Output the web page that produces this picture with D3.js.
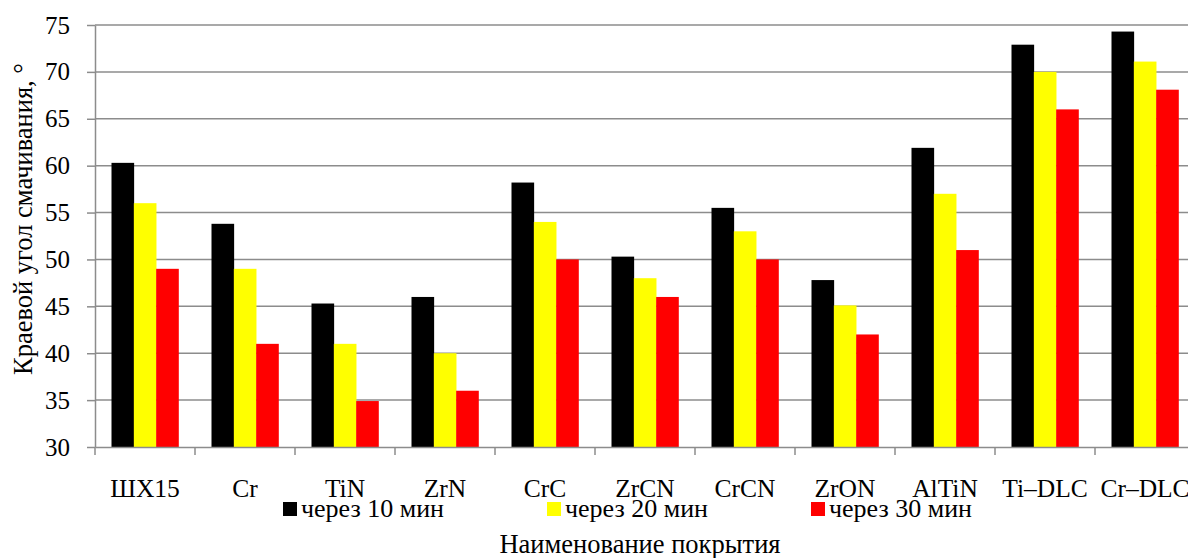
<!DOCTYPE html>
<html><head><meta charset="utf-8">
<script src="https://cdn.jsdelivr.net/npm/d3@7"></script>
<style>body{margin:0;background:#fff;} svg{display:block;}</style>
</head><body>
<svg id="c" width="1188" height="558"></svg>
<script>
const categories = ["ШХ15","Cr","TiN","ZrN","CrC","ZrCN","CrCN","ZrON","AlTiN","Ti\u2013DLC","Cr\u2013DLC"];
const seriesNames = ["через 10 мин","через 20 мин","через 30 мин"];
const seriesColors = ["#000000","#ffff00","#ff0000"];
const s10 = [60.3,53.8,45.3,46.0,58.2,50.3,55.5,47.8,61.9,72.9,74.3];
const s20 = [56.0,49.0,41.0,40.0,54.0,48.0,53.0,45.1,57.0,70.0,71.1];
const s30 = [49.0,41.0,34.9,36.0,50.0,46.0,50.0,42.0,51.0,66.0,68.1];
const yTicks = [30,35,40,45,50,55,60,65,70,75];
const yTitle = "Краевой угол смачивания, °";
const xTitle = "Наименование покрытия";

const series = [s10,s20,s30];
const svg = d3.select("#c");
const font = "Liberation Serif, Times New Roman, serif";
const L = 95, R = 1195, T = 25, B = 447;

const x = d3.scaleBand().domain(categories).range([L,R]).paddingInner(0.33).paddingOuter(0.165);
const xb = d3.scaleBand().domain(categories).range([L,R]);
const xs = d3.scaleBand().domain(d3.range(3)).range([0,x.bandwidth()]);
const y = d3.scaleLinear().domain([30,75]).range([B,T]);

// gridlines
svg.append("g").selectAll("line").data(yTicks.filter(t=>t>30)).join("line")
  .attr("x1",L).attr("x2",1188).attr("y1",d=>y(d)).attr("y2",d=>y(d))
  .attr("stroke","#8c8c8c").attr("stroke-width",1.5);

// bars
categories.forEach((c,i)=>{
  series.forEach((s,j)=>{
    svg.append("rect")
      .attr("x",x(c)+xs(j)).attr("width",xs.bandwidth()+0.3)
      .attr("y",y(s[i])).attr("height",B-y(s[i]))
      .attr("fill",seriesColors[j]);
  });
});

// y axis
const ya = svg.append("g").attr("transform",`translate(${L},0)`)
  .call(d3.axisLeft(y).tickValues(yTicks).tickSize(8).tickPadding(17).tickSizeOuter(0));
ya.attr("font-family",font);
ya.select(".domain").attr("stroke","#8c8c8c").attr("stroke-width",1.5);
ya.selectAll(".tick line").attr("stroke","#8c8c8c").attr("stroke-width",1.5);
ya.selectAll("text").attr("font-family",font).attr("font-size",25).attr("fill","#000");

// x axis
const xa = svg.append("g").attr("transform",`translate(0,${B})`)
  .call(d3.axisBottom(xb).tickSize(0).tickSizeOuter(0).tickPadding(32));
xa.attr("font-family",font);
xa.select(".domain").attr("stroke","#8c8c8c").attr("stroke-width",1.5);
xa.selectAll("text").attr("font-family",font).attr("font-size",25.5).attr("fill","#000");
svg.append("g").selectAll("line").data(categories).join("line")
  .attr("x1",d=>xb(d)).attr("x2",d=>xb(d)).attr("y1",B).attr("y2",B+8)
  .attr("stroke","#8c8c8c").attr("stroke-width",1.5);

// legend
const legX = [283,547,811];
seriesNames.forEach((n,j)=>{
  svg.append("rect").attr("x",legX[j]).attr("y",502).attr("width",14).attr("height",14).attr("fill",seriesColors[j]);
  svg.append("text").attr("x",legX[j]+18).attr("y",517).attr("font-family",font).attr("font-size",26).text(n);
});

// titles
svg.append("text").attr("x",640).attr("y",553).attr("text-anchor","middle")
  .attr("font-family",font).attr("font-size",26.5).text(xTitle);
svg.append("text").attr("transform","translate(32,219) rotate(-90)").attr("text-anchor","middle")
  .attr("font-family",font).attr("font-size",26.5).text(yTitle);
</script>
</body></html>
